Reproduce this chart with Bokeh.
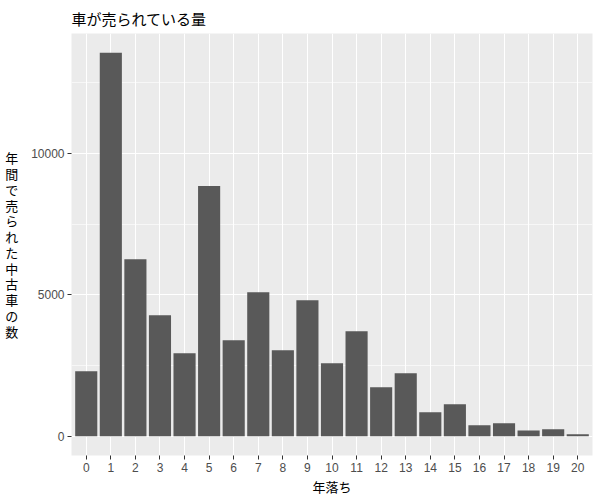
from bokeh.plotting import figure
from bokeh.models import Range1d, FixedTicker
from bokeh.embed import file_html
from bokeh.resources import INLINE

ages = list(range(21))
age_labels = [str(a) for a in ages]
counts = [2300, 13560, 6260, 4280, 2940, 8850, 3400, 5090, 3040, 4810,
          2580, 3710, 1730, 2230, 850, 1130, 390, 460, 210, 250, 70]

title_text = "車が売られている量"
x_title = "年落ち"
y_title = "年間で売られた中古車の数"

ymax = max(counts) * 1.05
ymin = -max(counts) * 0.05

p = figure(width=600, height=500, output_backend="svg", toolbar_location=None,
           x_range=Range1d(-0.6, 20.6), y_range=Range1d(ymin, ymax),
           min_border_left=71, min_border_right=8, min_border_top=33, min_border_bottom=45)

p.vbar(x=ages, top=counts, bottom=0, width=0.9, fill_color="#595959", line_color=None)

p.background_fill_color = "#EBEBEB"
p.border_fill_color = "white"
p.outline_line_color = None

p.title.text = title_text
p.title.text_font = "Noto Sans CJK JP"
p.title.text_font_size = "15px"
p.title.text_font_style = "normal"
p.title.text_color = "black"
p.title.align = "left"

p.xaxis.ticker = FixedTicker(ticks=ages)
p.xaxis.major_label_overrides = {a: l for a, l in zip(ages, age_labels)}
p.yaxis.ticker = FixedTicker(ticks=[0, 5000, 10000], minor_ticks=[2500, 7500, 12500])

for ax in (p.xaxis, p.yaxis):
    ax.axis_line_color = None
    ax.major_tick_line_color = "#333333"
    ax.major_tick_out = 4
    ax.major_tick_in = 0
    ax.minor_tick_line_color = None
    ax.major_label_text_color = "#4D4D4D"
    ax.major_label_text_font = "Liberation Sans"
    ax.major_label_text_font_size = "12px"
    ax.axis_label_text_font = "Noto Sans CJK JP"
    ax.axis_label_text_font_size = "13px"
    ax.axis_label_text_font_style = "normal"
    ax.axis_label_text_color = "black"

p.xaxis.axis_label = x_title
p.xaxis.major_label_standoff = 3
p.xaxis.axis_label_standoff = 2
p.yaxis.axis_label = "\n".join(y_title)
p.yaxis.axis_label_orientation = "horizontal"
p.yaxis.axis_label_text_line_height = 0.83
p.yaxis.major_label_standoff = 3
p.yaxis.axis_label_standoff = 10

p.xgrid.grid_line_color = "white"
p.xgrid.grid_line_width = 1.1
p.ygrid.grid_line_color = "white"
p.ygrid.grid_line_width = 1.1
p.ygrid.minor_grid_line_color = "white"
p.ygrid.minor_grid_line_width = 0.6

open("out.html", "w").write(file_html(p, INLINE))
